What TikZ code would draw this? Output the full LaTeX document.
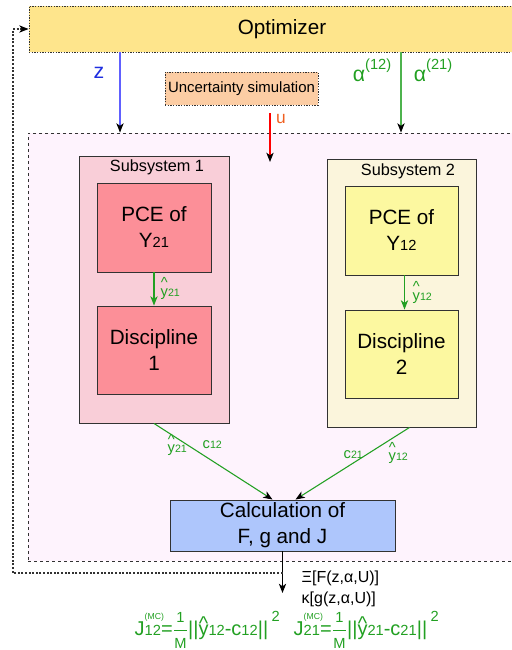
\documentclass[tikz,border=0pt]{standalone}
\usepackage{fontspec}
\setmainfont{Liberation Sans}
\usetikzlibrary{arrows.meta,calc}

\definecolor{optfill}{RGB}{254,229,140}
\definecolor{uncfill}{RGB}{252,205,164}
\definecolor{sysfill}{RGB}{254,243,253}
\definecolor{subAfill}{RGB}{249,206,216}
\definecolor{boxAfill}{RGB}{252,143,152}
\definecolor{subBfill}{RGB}{251,245,220}
\definecolor{boxBfill}{RGB}{252,248,160}
\definecolor{calcfill}{RGB}{174,198,252}
\definecolor{flowgreen}{RGB}{34,160,34}
\definecolor{zblue}{RGB}{96,96,255}
\definecolor{zlabel}{RGB}{30,46,224}
\definecolor{ulabel}{RGB}{240,96,32}
\definecolor{edge}{RGB}{50,50,50}

% sizes of the various texts
\newcommand\fbig{\fontsize{15.5}{19.5}\selectfont}
\newcommand\fsub{\fontsize{11}{11}\selectfont}
\newcommand\fsmall{\fontsize{8}{8}\selectfont}
\newcommand\ftiny{\fontsize{6.5}{6.5}\selectfont}

% y with a caret centred above it
\newcommand\hy[1]{\rlap{\hbox to \fontcharwd\font`y{\hss\raisebox{#1}{\textasciicircum}\hss}}y}
% Monte-Carlo coupling error
\newcommand\jmc[1]{J\rlap{\raisebox{1.45ex}{\ftiny(MC)}}{\fsub #1}=%
  \raisebox{-0.05ex}{$\displaystyle\frac{\mbox{\fsub 1}}{\mbox{\fsub M}}$}||\hy{0.22em}{\fsub #1}-c{\fsub #1}||%
  \,\raisebox{1.3ex}{\fsub 2}}

\tikzset{
  tip/.style={-{Stealth[length=7pt,width=5.5pt,inset=2pt,#1]}},
  tip/.default={black},
  box/.style={inner sep=0pt, draw=edge, line width=0.7pt, align=center},
  sz/.style 2 args={minimum width=#1*0.75pt, minimum height=#2*0.75pt},
  flow/.style={line width=0.8pt},
}

\begin{document}
\begin{tikzpicture}[x=0.75pt,y=-0.75pt]
\useasboundingbox (0,0) rectangle (511,650);

% top-level blocks
\node[box, sz={506}{46}, fill=optfill, dash pattern=on 1pt off 1pt, font=\fbig] (opt) at (282,29) {Optimizer};
\node[box, sz={507}{428}, fill=sysfill, dash pattern=on 2.5pt off 2pt] (sys) at (281.5,347) {};
\node[box, sz={153}{33}, fill=uncfill, dash pattern=on 1pt off 1pt,
      font=\fontsize{11.2}{13}\selectfont] (unc) at (241.5,88.5) {Uncertainty simulation};

% subsystem 1
\node[box, sz={150}{267}, fill=subAfill] (subA) at (154,289.5) {};
\node[font=\fontsize{12.2}{14}\selectfont] (subAt) at (157,167) {Subsystem 1};
\node[box, sz={114}{89}, fill=boxAfill, font=\fbig] (pceA) at (154,227.5) {PCE of\\Y{\fsub 21}};
\node[box, sz={114}{88}, fill=boxAfill, font=\fbig] (disA) at (154,350) {Discipline\\1};

% subsystem 2
\node[box, sz={149}{268}, fill=subBfill] (subB) at (401.5,293) {};
\node[font=\fontsize{12.2}{14}\selectfont] (subBt) at (408,171) {Subsystem 2};
\node[box, sz={113}{89}, fill=boxBfill, font=\fbig] (pceB) at (401.5,230.5) {PCE of\\Y{\fsub 12}};
\node[box, sz={113}{88}, fill=boxBfill, font=\fbig] (disB) at (401.5,354) {Discipline\\2};

% system-level evaluation
\node[box, sz={225}{51}, fill=calcfill, font=\fbig] (calc) at (282.5,525.5) {Calculation of\\F, g and J};

% design variables and targets from the optimizer
\coordinate (zx) at (120,0);
\coordinate (ax) at (401,0);
\draw[flow, draw=zblue, tip] (zx |- opt.south) -- (zx |- sys.north);
\node[text=zlabel, font=\fontsize{16}{16}\selectfont] (zl) at (99,73) {z};
\draw[flow, draw=flowgreen!80, tip] (ax |- opt.south) -- (ax |- sys.north);
\node[text=flowgreen, font=\fontsize{16}{16}\selectfont] (al) at (372,70) {α\raisebox{1.1ex}{\fsub(12)}};
\node[text=flowgreen, font=\fontsize{16}{16}\selectfont] (ar) at (433,70) {α\raisebox{1.1ex}{\fsub(21)}};

% uncertain inputs
\coordinate (us) at (270,113);
\coordinate (ue) at (270,162);
\draw[flow, draw=red, tip] (us) -- (ue);
\node[text=ulabel, font=\fontsize{13}{13}\selectfont] (ul) at (281,119) {u};

% coupling surrogates inside the subsystems
\draw[flow, draw=flowgreen, tip=flowgreen] (pceA.south) -- (disA.north);
\node[text=flowgreen, font=\fsub, anchor=base west] (yA) at (156,296) {\hy{0.6em}{\fsmall 21}};
\draw[flow, draw=flowgreen, tip=flowgreen] ($(pceB.south)+(3,0)$) -- ($(disB.north)+(3,0)$);
\node[text=flowgreen, font=\fsub, anchor=base west] (yB) at (408,300) {\hy{0.6em}{\fsmall 12}};

% subsystem outputs
\draw[flow, draw=flowgreen, tip] (subA.south) -- ($(calc.north)+(-10,0)$);
\draw[flow, draw=flowgreen, tip] ($(subB.south)+(8,0)$) -- ($(calc.north)+(13,0)$);
\node[text=flowgreen, font=\fsub, anchor=base west] (lA1) at (163,452) {\hy{0.5em}{\fsmall 21}};
\node[text=flowgreen, font=\fsub, anchor=base west] (lA2) at (198,448) {c{\fsmall 12}};
\node[text=flowgreen, font=\fsub, anchor=base west] (lB1) at (339,458) {c{\fsmall 21}};
\node[text=flowgreen, font=\fsub, anchor=base west] (lB2) at (384,460) {\hy{0.5em}{\fsmall 12}};

% results and feedback loop
\coordinate (out) at (282.5,593);
\draw[flow, tip] (calc.south) -- (out);
\coordinate (fbrow) at (0,573);
\coordinate (fbx) at (13,29);
\draw[line width=0.8pt, draw=edge, dash pattern=on 1.5pt off 1.2pt, tip]
  (calc.south |- fbrow) -| (fbx) -- (opt.west);
\node[anchor=west, font=\fontsize{12}{12}\selectfont] (ex) at (297,578) {Ξ[F(z,α,U)]};
\node[anchor=west, font=\fontsize{12}{12}\selectfont] (ka) at (297,599) {κ[g(z,α,U)]};
\node[anchor=base west, text=flowgreen, font=\fontsize{15}{15}\selectfont] (j12) at (130,635) {\jmc{12}};
\node[anchor=base west, text=flowgreen, font=\fontsize{15}{15}\selectfont] (j21) at (289,635) {\jmc{21}};
\end{tikzpicture}
\end{document}
